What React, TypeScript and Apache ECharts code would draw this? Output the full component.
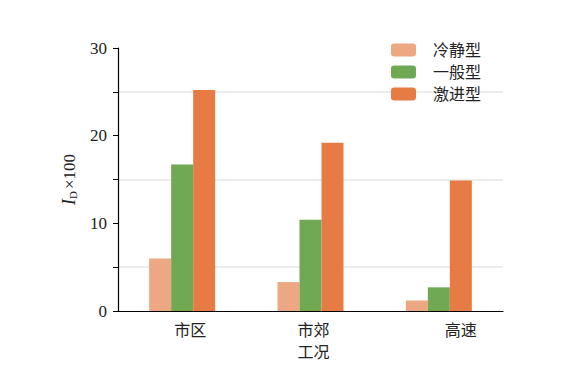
import React, { useEffect, useRef } from "react";
import * as echarts from "echarts";

const categories = ["市区", "市郊", "高速"];
const labelShift = [16, 6, 44];
const seriesNames = ["冷静型", "一般型", "激进型"];
const calmValues = [6.0, 3.3, 1.2];
const normalValues = [16.7, 10.4, 2.7];
const aggressiveValues = [25.2, 19.2, 14.9];
const colors = ["#EDA883", "#70A853", "#E67C43"];

const FONT = "'Liberation Serif', 'Noto Sans CJK SC', serif";

export default function App() {
  const ref = useRef<HTMLDivElement>(null);
  useEffect(() => {
    if (!ref.current) return;
    const chart = echarts.init(ref.current, undefined, { renderer: "svg" });
    const values = [calmValues, normalValues, aggressiveValues];
    chart.setOption({
      animation: false,
      textStyle: { fontFamily: FONT },
      grid: { left: 118, right: 71, top: 48, bottom: 57 },
      legend: {
        orient: "vertical",
        right: 88,
        top: 37,
        itemWidth: 25,
        itemHeight: 13,
        itemGap: 6,
        textStyle: { fontSize: 16, color: "#222", fontFamily: FONT, padding: [0, 0, 0, 12] },
        data: seriesNames,
      },
      xAxis: {
        type: "category",
        data: categories.map((c, i) => ({
          value: c,
          textStyle: { padding: [0, 0, 0, labelShift[i]] },
        })),
        name: "工况",
        nameLocation: "middle",
        nameGap: 33,
        nameTextStyle: { fontSize: 16, color: "#222", fontFamily: FONT, padding: [0, 0, 0, 6] },
        axisLine: { lineStyle: { color: "#000", width: 1.2 } },
        axisTick: { show: false },
        axisLabel: { fontSize: 16, color: "#222", margin: 11, fontFamily: FONT },
        splitLine: { show: false },
      },
      yAxis: {
        type: "value",
        min: 0,
        max: 30,
        interval: 10,
        name: "{i|I}{s|D}{n|×100}",
        nameLocation: "middle",
        nameGap: 40,
        nameRotate: 90,
        nameTextStyle: {
          rich: {
            i: { fontSize: 18, fontStyle: "italic", fontFamily: FONT, color: "#222" },
            s: { fontSize: 11, fontFamily: FONT, color: "#222", verticalAlign: "bottom", padding: [7, 2, 0, 0] },
            n: { fontSize: 17, fontFamily: FONT, color: "#222" },
          },
        },
        axisLine: { show: true, lineStyle: { color: "#000", width: 1.2 } },
        axisTick: { show: true, length: 5, lineStyle: { color: "#000" } },
        minorTick: { show: true, splitNumber: 2, length: 5, lineStyle: { color: "#000" } },
        minorSplitLine: { show: true, lineStyle: { color: "#e6e6e6", width: 1.5 } },
        splitLine: { show: false },
        axisLabel: { fontSize: 17, color: "#222", margin: 11, fontFamily: FONT },
      },
      series: seriesNames.map((name, i) => ({
        name,
        type: "bar",
        data: values[i],
        barWidth: 22,
        barGap: "0%",
        itemStyle: { color: colors[i] },
      })),
    });
    return () => chart.dispose();
  }, []);
  return <div ref={ref} style={{ width: 574, height: 368, marginLeft: -8, marginTop: -8 }} />;
}
